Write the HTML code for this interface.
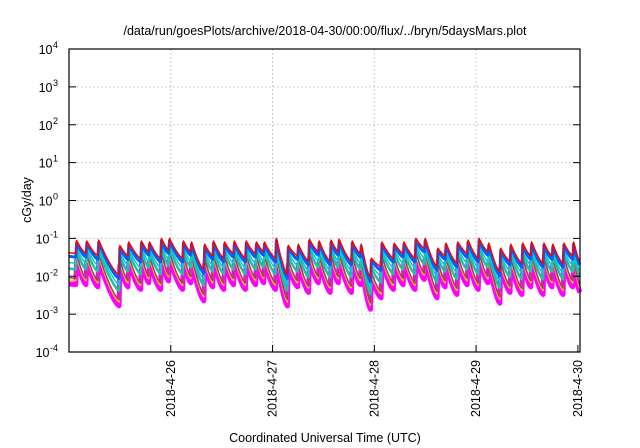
<!DOCTYPE html>
<html><head><meta charset="utf-8"><style>
body{margin:0;background:#fff;}
svg{display:block;font-family:"Liberation Sans",sans-serif;}
</style></head><body>
<svg id="chart" width="640" height="448" viewBox="0 0 640 448">
<text x="325" y="35" font-size="12.5" text-anchor="middle">/data/run/goesPlots/archive/2018-04-30/00:00/flux/../bryn/5daysMars.plot</text>
<text transform="translate(31,200) rotate(-90)" font-size="12.5" text-anchor="middle">cGy/day</text>
<text x="325" y="442" font-size="12.5" text-anchor="middle">Coordinated Universal Time (UTC)</text>
<g id="grid"></g><g id="series"></g><g id="axes"></g>
</svg>
<script>
const yExps=[-4,-3,-2,-1,0,1,2,3,4];
const xTickLabels=["2018-4-26","2018-4-27","2018-4-28","2018-4-29","2018-4-30"];
const xTickHours=[24,48,72,96,120];
const spikeHours=[1.6,4.0,6.8,11.8,13.9,16.9,18.8,21.6,23.5,26.8,28.7,31.8,33.9,36.5,38.8,41.6,44.0,45.9,48.7,51.5,53.9,56.5,58.8,61.6,63.5,66.6,68.7,71.1,73.6,76.5,78.8,81.6,83.8,86.8,88.7,91.5,93.9,96.5,98.8,101.6,104.0,106.8,108.9,111.8,113.9,116.5,118.8];
const preVals=[0.04,0.04,0.035,0.011,0.035,0.03,0.045,0.03,0.05,0.03,0.045,0.015,0.035,0.03,0.04,0.03,0.04,0.045,0.03,0.011,0.035,0.025,0.045,0.025,0.045,0.025,0.04,0.009,0.018,0.03,0.04,0.03,0.055,0.018,0.035,0.022,0.04,0.03,0.045,0.013,0.025,0.022,0.035,0.022,0.035,0.022,0.035];
const peakVals=[0.088,0.085,0.09,0.065,0.08,0.085,0.08,0.1,0.1,0.085,0.08,0.07,0.085,0.08,0.085,0.085,0.08,0.08,0.1,0.065,0.07,0.095,0.085,0.09,0.095,0.085,0.07,0.03,0.08,0.075,0.08,0.1,0.1,0.055,0.075,0.08,0.09,0.1,0.075,0.055,0.07,0.075,0.08,0.075,0.07,0.075,0.08];
const startVal=0.042, endVal=0.025;
const seriesNames=["magenta","yellow","brown","teal","cyan","blue","red"];
const peakRatios=[0.3,0.36,0.42,0.55,0.7,0.88,1.0];
const troughRatios=[0.15,0.19,0.22,0.38,0.55,0.8,1.0];
const seriesColors=["#ff00ff","#e8c800","#a0406a","#20c0a0","#00d0e0","#0060ff","#ff0000"];
const seriesWidths=[5,1.5,1.5,2.5,1.5,3,1.5];

const L=69,R=580,T=49,B=352,H0=0,H1=120.5;
const NS="http://www.w3.org/2000/svg";
function xs(h){return L+(h-H0)/(H1-H0)*(R-L);}
function ys(v){return B-(Math.log10(v)+4)/8*(B-T);}
function mk(tag,attrs,parent){const e=document.createElementNS(NS,tag);for(const k in attrs)e.setAttribute(k,attrs[k]);parent.appendChild(e);return e;}
const grid=document.getElementById('grid'),axes=document.getElementById('axes'),ser=document.getElementById('series');
yExps.forEach(function(ex){
  const y=ys(Math.pow(10,ex));
  if(ex>-4&&ex<4){const g=mk('line',{x1:L,x2:R,y1:y,y2:y,stroke:'#bbb','stroke-dasharray':'1.5,2.5'},grid);
  
  }
  const t1=mk('line',{x1:L,x2:L+7,y1:y,y2:y,stroke:'#000'},axes);
  const t2=mk('line',{x1:R-7,x2:R,y1:y,y2:y,stroke:'#000'},axes);
  const tx=mk('text',{x:L-11,y:y+5,'font-size':'12.5','text-anchor':'end'},axes);
  
  
  tx.textContent='10';
  const sp=mk('tspan',{dx:'0.5',dy:'-6','font-size':'9'},tx);sp.textContent=String(ex);
});
xTickHours.forEach(function(h,i){
  const x=xs(h);
  if(h<H1-1){const g=mk('line',{x1:x,x2:x,y1:T,y2:B,stroke:'#bbb','stroke-dasharray':'1.5,2.5'},grid);
  
  }
  const t=mk('line',{x1:x,x2:x,y1:B,y2:B-7,stroke:'#000'},axes);
  const tx=mk('text',{transform:'translate('+(x+4)+','+(B+8)+') rotate(-90)','font-size':'12.5','text-anchor':'end'},axes);
  
  
  tx.textContent=xTickLabels[i];
});
const fr=mk('rect',{x:L,y:T,width:R-L,height:B-T,fill:'none',stroke:'#000','stroke-width':'1.2'},axes);


// build segments: each segment decays from a peak to the next pre value
function segPoints(h0,h1,v0,v1,j,d){
  const n=8;
  const lp0=Math.log10(v0*peakRatios[j]);
  const lt=Math.log10(v1*troughRatios[j]);
  for(let k=1;k<=n;k++){
    const s=k/n;const f=1-Math.pow(1-s,1.4);
    d.push(' L'+xs(h0+(h1-h0)*s)+','+ys(Math.pow(10,lp0+(lt-lp0)*f)));
  }
}
seriesNames.forEach(function(nm,j){
  const d=['M'+xs(H0)+','+ys(startVal*troughRatios[j])];
  let h0=H0,v0=null;
  spikeHours.forEach(function(h,i){
    if(v0!==null){segPoints(h0+0.2,h,v0,preVals[i],j,d);}
    else{d.push(' L'+xs(h)+','+ys(preVals[i]*troughRatios[j]));}
    d.push(' L'+xs(h+0.2)+','+ys(peakVals[i]*peakRatios[j]));
    h0=h;v0=peakVals[i];
  });
  segPoints(h0+0.2,H1,v0,endVal,j,d);
  const p=mk('path',{d:d.join(''),fill:'none',stroke:seriesColors[j],'stroke-width':seriesWidths[j],'stroke-linejoin':'round'},ser);
  
  
});
</script>
</body></html>
